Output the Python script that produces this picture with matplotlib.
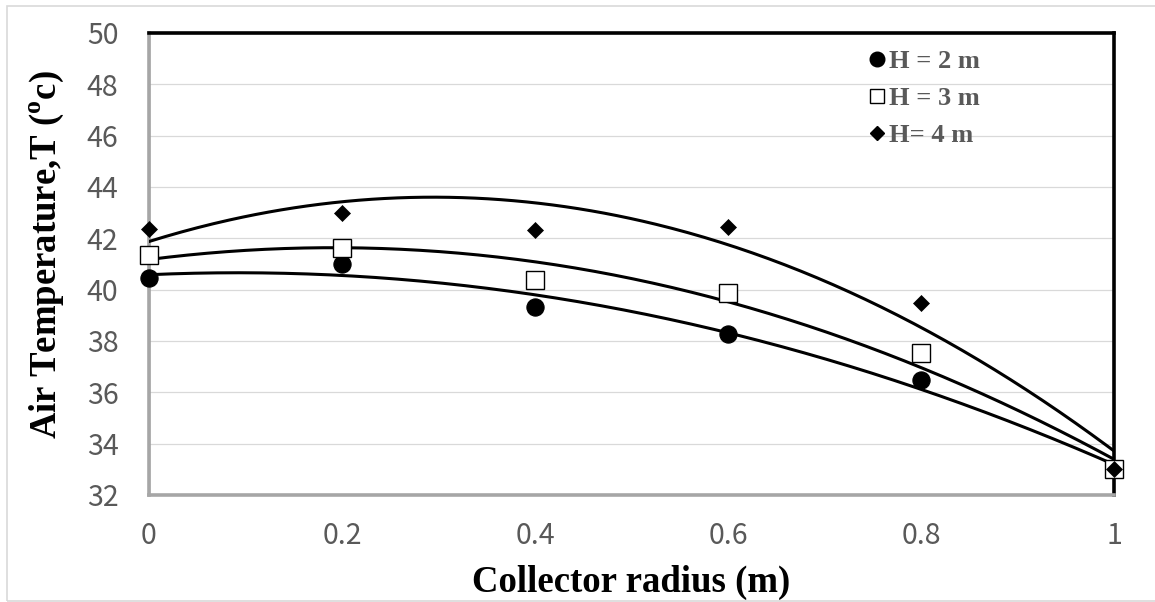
import numpy as np
import matplotlib
matplotlib.use("Agg")
import matplotlib.pyplot as plt
from matplotlib.lines import Line2D
from matplotlib.patches import Rectangle

# ---- data ----
radius = [0.0, 0.2, 0.4, 0.6, 0.8, 1.0]
temp_h2 = [40.47, 40.99, 39.32, 38.26, 36.49, 33.03]
temp_h3 = [41.35, 41.64, 40.38, 39.86, 37.52, 33.03]
temp_h4 = [42.38, 43.00, 42.32, 42.45, 39.50, 33.03]
labels = ["H = 2 m", "H = 3 m", "H= 4 m"]
x_ticks = [0, 0.2, 0.4, 0.6, 0.8, 1]
x_ticklabels = ["0", "0.2", "0.4", "0.6", "0.8", "1"]
y_ticks = [32, 34, 36, 38, 40, 42, 44, 46, 48, 50]
xlabel = "Collector radius (m)"
ylabel = r"Air Temperature,T ($^{\mathrm{o}}$c)"

plt.rcParams['mathtext.fontset'] = 'custom'
plt.rcParams['mathtext.rm'] = 'Liberation Serif:bold'
plt.rcParams['mathtext.bf'] = 'Liberation Serif:bold'

W, H = 1155, 602
fig = plt.figure(figsize=(W / 100, H / 100), dpi=100)
L, R, T, B = 149, 1114, 33, 495
ax = fig.add_axes([L / W, 1 - B / H, (R - L) / W, (B - T) / H])

# outer chart-area border
fig.patches.append(Rectangle((7 / W, 1 - 601 / H), (W + 10) / W, (601 - 6) / H,
                             transform=fig.transFigure, fill=False,
                             edgecolor='#d9d9d9', lw=1.2))

ax.set_xlim(0, 1)
ax.set_ylim(32, 50)
ax.set_yticks(y_ticks)
ax.set_xticks(x_ticks)
ax.set_xticklabels(x_ticklabels)
ax.grid(axis='y', color='#d9d9d9', lw=0.9)
ax.set_axisbelow(True)

ax.tick_params(axis='both', length=0, labelcolor='#595959', labelsize=20.5)
ax.tick_params(axis='x', pad=19)
ax.tick_params(axis='y', pad=22)
for lab in ax.get_xticklabels() + ax.get_yticklabels():
    lab.set_fontfamily('Noto Sans CJK JP')

for s in ['top', 'right']:
    ax.spines[s].set_color('black')
    ax.spines[s].set_linewidth(2.6)
for s in ['left', 'bottom']:
    ax.spines[s].set_color('#a6a6a6')
    ax.spines[s].set_linewidth(2.6)
ax.axvline(0, color='black', lw=0.9, zorder=2)
ax.axhline(32, color='black', lw=0.9, zorder=2)

xs = np.linspace(0, 1, 300)
series = [
    (temp_h2, dict(marker='o', ms=12.4, mfc='black', mec='black', mew=0.8)),
    (temp_h3, dict(marker='s', ms=13.2, mfc='white', mec='black', mew=1.0)),
    (temp_h4, dict(marker='D', ms=8.2, mfc='black', mec='black', mew=0.5)),
]
for vals, style in series:
    coef = np.polyfit(radius, vals, 2)
    ax.plot(xs, np.polyval(coef, xs), color='black', lw=2.2, zorder=3)
for vals, style in series:
    ax.plot(radius, vals, ls='None', clip_on=False, zorder=4, **style)

handles = [
    Line2D([], [], ls='None', marker='o', ms=10.5, mfc='black', mec='black'),
    Line2D([], [], ls='None', marker='s', ms=10.2, mfc='white', mec='black', mew=1.0),
    Line2D([], [], ls='None', marker='D', ms=7.0, mfc='black', mec='black'),
]
leg = fig.legend(handles, labels, loc='upper left',
                 bbox_to_anchor=(865 / W, 1 - 50 / H), bbox_transform=fig.transFigure,
                 frameon=False, borderpad=0, borderaxespad=0, handlelength=0.9,
                 handletextpad=0.02, labelspacing=0.5,
                 prop=dict(family='Liberation Serif', weight='bold', size=19),
                 labelcolor='#595959')

ax.set_xlabel(xlabel, fontfamily='Liberation Serif', fontweight='bold', fontsize=26.5)
ax.set_ylabel(ylabel, fontfamily='Liberation Serif', fontweight='bold', fontsize=26.5)
ax.xaxis.label.set_va('center')
ax.yaxis.label.set_va('center')
ax.xaxis.set_label_coords(0.5, -0.19)
ax.yaxis.set_label_coords(-0.1057, 0.52)

fig.savefig('out.png', dpi=100)
